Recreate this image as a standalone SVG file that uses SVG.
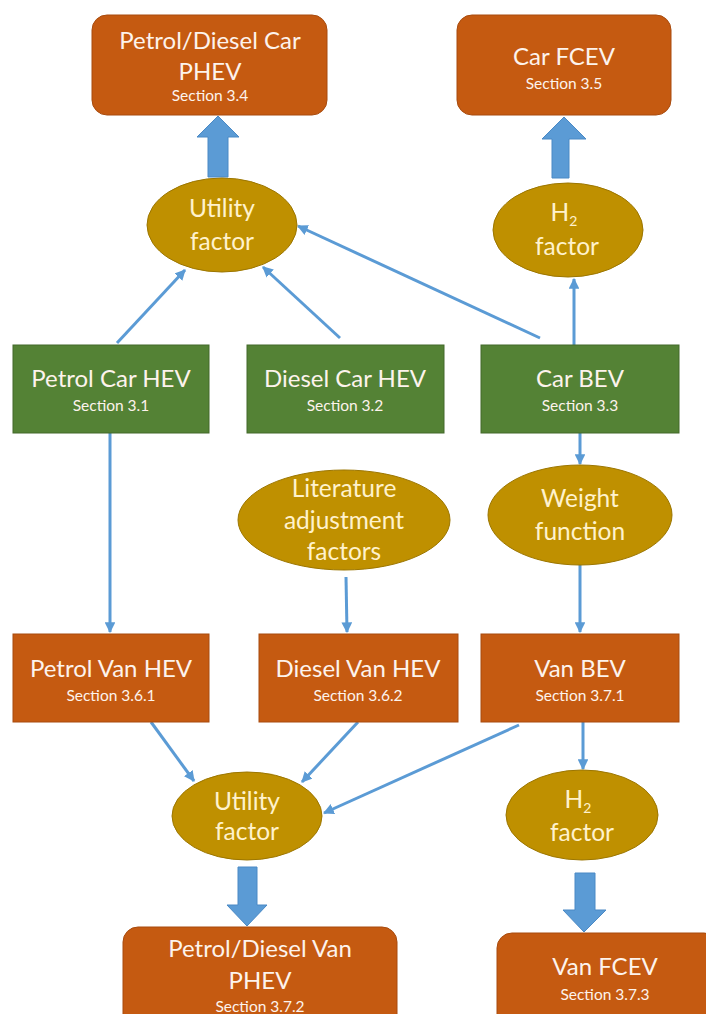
<svg xmlns="http://www.w3.org/2000/svg" width="706" height="1014" viewBox="0 0 706 1014">
<defs>
<style>
.or{fill:#C55A11;stroke:#A84B0E;stroke-width:1}
.gr{fill:#548235;stroke:#43692A;stroke-width:1}
.el{fill:#BF9000;stroke:#9C7600;stroke-width:1}
.t{font-family:Lato,"Open Sans","Liberation Sans",sans-serif;fill:#FDF3EC;text-anchor:middle}
.te{font-family:Lato,"Open Sans","Liberation Sans",sans-serif;fill:#FFF2CC;text-anchor:middle}
.m{font-size:24px}
.me{font-size:24.5px}
.s{font-size:15.5px}
.ln{stroke:#5B9BD5;stroke-width:3;fill:none;marker-end:url(#ah)}
.big{fill:#5B9BD5;stroke:#4A89C5;stroke-width:1}
</style>
<marker id="ah" viewBox="0 0 10 10" refX="9" refY="5" markerWidth="3.6" markerHeight="3.6" orient="auto" markerUnits="strokeWidth">
<path d="M0,0 L10,5 L0,10 Z" fill="#5B9BD5"/>
</marker>
</defs>
<rect width="706" height="1014" fill="#FFFFFF"/>

<g id="connectors">
<line class="ln" x1="117" y1="343" x2="185" y2="270"/>
<line class="ln" x1="340" y1="338" x2="263" y2="267"/>
<line class="ln" x1="540" y1="338" x2="298" y2="226"/>
<line class="ln" x1="574" y1="345" x2="574" y2="279"/>
<line class="ln" x1="110" y1="433" x2="110" y2="632"/>
<line class="ln" x1="580" y1="433" x2="580" y2="464"/>
<line class="ln" x1="346" y1="577" x2="347" y2="632"/>
<line class="ln" x1="580" y1="565" x2="580" y2="632"/>
<line class="ln" x1="151" y1="722" x2="194" y2="781"/>
<line class="ln" x1="358" y1="722" x2="302" y2="782"/>
<line class="ln" x1="519" y1="725" x2="324" y2="813"/>
<line class="ln" x1="583" y1="722" x2="583" y2="769"/>
<path class="big" d="M208,177 L208,137 L197,137 L218,116 L239,137 L228,137 L228,177 Z"/>
<path class="big" d="M552,178 L552,139 L542,139 L564,117 L586,139 L569,139 L569,178 Z"/>
<path class="big" d="M238,867 L257,867 L257,905 L267,905 L247,926 L227,905 L238,905 Z"/>
<path class="big" d="M575,873 L595,873 L595,910 L606,910 L584,932 L563,910 L575,910 Z"/>
</g>

<g id="car-phev">
<rect class="or" x="92" y="15" width="235" height="100" rx="15"/>
<text class="t m" x="210" y="49">Petrol/Diesel Car</text>
<text class="t m" x="210" y="80">PHEV</text>
<text class="t s" x="210" y="101">Section 3.4</text>
</g>
<g id="car-fcev">
<rect class="or" x="457" y="15" width="214" height="100" rx="15"/>
<text class="t m" x="564" y="65">Car FCEV</text>
<text class="t s" x="564" y="89">Section 3.5</text>
</g>
<g id="uf-car">
<ellipse class="el" cx="222" cy="225" rx="75" ry="47"/>
<text class="te me" x="222" y="217">Utility</text>
<text class="te me" x="222" y="250">factor</text>
</g>
<g id="h2-car">
<ellipse class="el" cx="568" cy="230" rx="75" ry="47"/>
<text class="te me" x="564" y="221">H<tspan font-size="14" dy="5">2</tspan></text>
<text class="te me" x="567" y="255">factor</text>
</g>
<g id="petrol-car-hev">
<rect class="gr" x="13" y="345" width="196" height="88"/>
<text class="t m" x="111" y="387">Petrol Car HEV</text>
<text class="t s" x="111" y="411">Section 3.1</text>
</g>
<g id="diesel-car-hev">
<rect class="gr" x="247" y="345" width="197" height="88"/>
<text class="t m" x="345" y="387">Diesel Car HEV</text>
<text class="t s" x="345" y="411">Section 3.2</text>
</g>
<g id="car-bev">
<rect class="gr" x="481" y="345" width="198" height="88"/>
<text class="t m" x="580" y="387">Car BEV</text>
<text class="t s" x="580" y="411">Section 3.3</text>
</g>
<g id="literature">
<ellipse class="el" cx="344" cy="520" rx="106" ry="50"/>
<text class="te me" x="344" y="497">Literature</text>
<text class="te me" x="344" y="529">adjustment</text>
<text class="te me" x="344" y="560">factors</text>
</g>
<g id="weight">
<ellipse class="el" cx="580" cy="515" rx="92" ry="50"/>
<text class="te me" x="580" y="507">Weight</text>
<text class="te me" x="580" y="540">function</text>
</g>
<g id="petrol-van-hev">
<rect class="or" x="13" y="634" width="196" height="88"/>
<text class="t m" x="111" y="677">Petrol Van HEV</text>
<text class="t s" x="111" y="701">Section 3.6.1</text>
</g>
<g id="diesel-van-hev">
<rect class="or" x="259" y="634" width="199" height="88"/>
<text class="t m" x="358" y="677">Diesel Van HEV</text>
<text class="t s" x="358" y="701">Section 3.6.2</text>
</g>
<g id="van-bev">
<rect class="or" x="481" y="634" width="198" height="88"/>
<text class="t m" x="580" y="677">Van BEV</text>
<text class="t s" x="580" y="701">Section 3.7.1</text>
</g>
<g id="uf-van">
<ellipse class="el" cx="247" cy="816" rx="75" ry="44"/>
<text class="te me" x="247" y="810">Utility</text>
<text class="te me" x="247" y="840">factor</text>
</g>
<g id="h2-van">
<ellipse class="el" cx="582" cy="815" rx="76" ry="45"/>
<text class="te me" x="578" y="808">H<tspan font-size="14" dy="5">2</tspan></text>
<text class="te me" x="582" y="841">factor</text>
</g>
<g id="van-phev">
<rect class="or" x="123" y="927" width="274" height="110" rx="15"/>
<text class="t m" x="260" y="957">Petrol/Diesel Van</text>
<text class="t m" x="260" y="989">PHEV</text>
<text class="t s" x="260" y="1012">Section 3.7.2</text>
</g>
<g id="van-fcev">
<rect class="or" x="497" y="933" width="222" height="110" rx="15"/>
<text class="t m" x="605" y="975">Van FCEV</text>
<text class="t s" x="605" y="1000">Section 3.7.3</text>
</g>
</svg>
